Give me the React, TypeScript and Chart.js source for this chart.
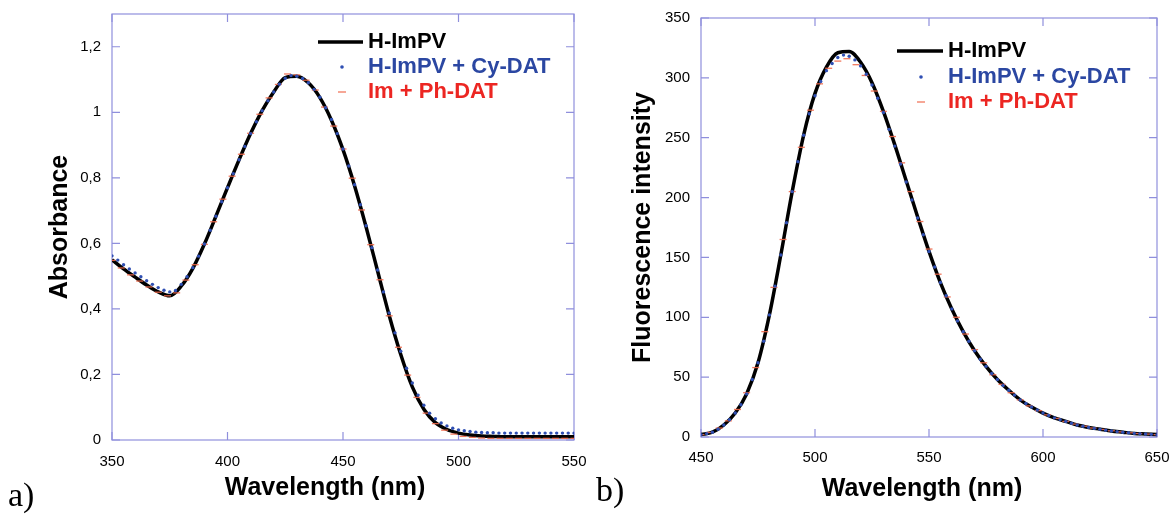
import React, { useEffect, useRef } from 'react';
import { Chart, registerables } from 'chart.js';

Chart.register(...registerables);

const FONT = '"Liberation Sans", Arial, sans-serif';

// ---------- data ----------
const seriesNames = ['H-ImPV', 'H-ImPV + Cy-DAT', 'Im + Ph-DAT'];

function grid(start: number, stop: number, step: number): number[] {
  const out: number[] = [];
  for (let v = start; v <= stop + 1e-9; v += step) out.push(Math.round(v * 10) / 10);
  return out;
}

// (a) Absorbance
const absLineWl = grid(350, 550, 5);
const absLineVals = [
  0.550, 0.522, 0.497, 0.473, 0.452, 0.440, 0.470, 0.524, 0.598, 0.683,
  0.770, 0.855, 0.935, 1.005, 1.062, 1.106, 1.110, 1.090, 1.045, 0.976,
  0.886, 0.776, 0.650, 0.515, 0.380, 0.261, 0.162, 0.094, 0.053, 0.032,
  0.021, 0.015, 0.012, 0.011, 0.010, 0.010, 0.010, 0.010, 0.010, 0.010,
  0.010,
];
const absDotWl = grid(350, 550, 2.5);
const absDotVals = [
  0.562, 0.549, 0.535, 0.522, 0.510, 0.498, 0.486, 0.475,
  0.465, 0.457, 0.452, 0.456, 0.475, 0.498, 0.526, 0.561,
  0.598, 0.640, 0.683, 0.727, 0.770, 0.813, 0.855, 0.896,
  0.935, 0.971, 1.005, 1.035, 1.062, 1.086, 1.104, 1.112,
  1.110, 1.103, 1.090, 1.070, 1.046, 1.014, 0.978, 0.935,
  0.888, 0.836, 0.779, 0.718, 0.654, 0.587, 0.519, 0.452,
  0.388, 0.327, 0.271, 0.219, 0.174, 0.137, 0.106, 0.082,
  0.065, 0.052, 0.043, 0.036, 0.031, 0.028, 0.026, 0.024,
  0.023, 0.022, 0.022, 0.021, 0.021, 0.021, 0.021, 0.021,
  0.021, 0.021, 0.021, 0.021, 0.021, 0.021, 0.021, 0.021,
  0.021,
];
const absDashWl = grid(350, 550, 4);
const absDashVals = [
  0.548, 0.525, 0.504, 0.485, 0.467, 0.451, 0.440, 0.449, 0.488, 0.535,
  0.597, 0.666, 0.735, 0.805, 0.872, 0.936, 0.994, 1.044, 1.085, 1.117,
  1.114, 1.098, 1.068, 1.016, 0.958, 0.888, 0.799, 0.702, 0.596, 0.489,
  0.379, 0.283, 0.198, 0.130, 0.082, 0.050, 0.030, 0.018, 0.011, 0.008,
  0.006, 0.005, 0.005, 0.005, 0.005, 0.005, 0.005, 0.005, 0.005, 0.005,
  0.005,
];

// (b) Fluorescence
const flLineWl = grid(450, 650, 5);
const flLineVals = [
  2, 4, 10, 20, 36, 62, 102, 152, 205, 252,
  287, 309, 321, 322, 313, 296, 272, 244, 214, 184,
  155, 129, 107, 88, 72, 59, 48, 39, 31, 25,
  20, 16, 13, 10, 8, 6.5, 5, 4, 3, 2.5,
  2,
];
const flDotWl = grid(450, 650, 2.5);
const flDotVals = [
  2, 2.8, 4, 6.5, 10, 14.5, 20, 27,
  36, 48, 62, 80, 102, 126, 152, 179,
  205, 230, 252, 270, 285, 297, 306, 312,
  317, 319, 318, 315, 310, 303, 294, 283,
  271, 257, 243, 228, 213, 198, 183, 169,
  155, 142, 129, 118, 107, 97, 88, 80,
  72, 65, 59, 53, 48, 43, 39, 35,
  31, 28, 25, 22.5, 20, 18, 16, 14.5,
  13, 11.5, 10, 9, 8, 7.2, 6.5, 5.7,
  5, 4.5, 4, 3.5, 3, 2.7, 2.5, 2.2,
  2,
];
const flDashWl = grid(450, 650, 4);
const flDashVals = [
  2, 3.8, 7.5, 13.5, 23, 37, 58, 88, 125, 165,
  205, 242, 273, 295, 308, 314, 316, 311, 302, 289,
  272, 251, 229, 205, 180, 157, 136, 117, 100, 86,
  73, 62, 52, 44, 37, 31, 26, 22, 18.5, 15.5,
  13, 10.8, 9, 7.5, 6.3, 5.2, 4.3, 3.5, 2.9, 2.4,
  2,
];

// ---------- style ----------
const BLACK = '#000000';
const BLUE = '#2f4fb3';
const BLUE_TEXT = '#2b47a2';
const RED_TEXT = '#ec2622';
const RED_MARK = 'rgba(240,105,75,0.9)';
const FRAME = '#8f8fdc';

function pts(xs: number[], ys: number[]) {
  return xs.map((x, i) => ({ x, y: ys[i] }));
}

const decorPlugin = {
  id: 'decor',
  beforeDatasetsDraw(chart: any, _a: any, opts: any) {
    const { ctx, chartArea: a, scales } = chart;
    ctx.save();
    ctx.strokeStyle = FRAME;
    ctx.lineWidth = 1.2;
    ctx.strokeRect(a.left, a.top, a.right - a.left, a.bottom - a.top);
    const tl = opts.tickLen;
    ctx.beginPath();
    scales.x.ticks.forEach((t: any) => {
      const px = scales.x.getPixelForValue(t.value);
      ctx.moveTo(px, a.bottom); ctx.lineTo(px, a.bottom - tl);
      ctx.moveTo(px, a.top); ctx.lineTo(px, a.top + tl);
    });
    scales.y.ticks.forEach((t: any) => {
      const py = scales.y.getPixelForValue(t.value);
      ctx.moveTo(a.left, py); ctx.lineTo(a.left + tl, py);
      ctx.moveTo(a.right, py); ctx.lineTo(a.right - tl, py);
    });
    ctx.stroke();
    ctx.restore();
  },
  afterDraw(chart: any, _a: any, opts: any) {
    const { ctx } = chart;
    ctx.save();
    // x-axis title
    ctx.fillStyle = '#000';
    ctx.font = `bold 25px ${FONT}`;
    ctx.textAlign = 'center';
    ctx.textBaseline = 'middle';
    ctx.fillText(opts.xTitle, opts.xTitleX, opts.xTitleY);
    // legend
    const lg = opts.legend;
    ctx.font = `bold 22px ${FONT}`;
    ctx.textAlign = 'left';
    ctx.textBaseline = 'middle';
    // row 0: line
    ctx.strokeStyle = BLACK;
    ctx.lineWidth = 3.5;
    ctx.beginPath();
    ctx.moveTo(lg.lineX1, lg.rows[0]);
    ctx.lineTo(lg.lineX2, lg.rows[0]);
    ctx.stroke();
    ctx.fillStyle = BLACK;
    ctx.fillText(seriesNames[0], lg.textX, lg.rows[0]);
    // row 1: dot
    ctx.fillStyle = BLUE;
    ctx.beginPath();
    ctx.arc(lg.markX, lg.rows[1], 1.8, 0, Math.PI * 2);
    ctx.fill();
    ctx.fillStyle = BLUE_TEXT;
    ctx.fillText(seriesNames[1], lg.textX, lg.rows[1]);
    // row 2: dash
    ctx.strokeStyle = RED_MARK;
    ctx.lineWidth = 1.3;
    ctx.beginPath();
    ctx.moveTo(lg.markX - 4, lg.rows[2]);
    ctx.lineTo(lg.markX + 4, lg.rows[2]);
    ctx.stroke();
    ctx.fillStyle = RED_TEXT;
    ctx.fillText(seriesNames[2], lg.textX, lg.rows[2]);
    ctx.restore();
  },
};

function makeDatasets(lineX: number[], lineY: number[], dotX: number[], dotY: number[], dashX: number[], dashY: number[]) {
  return [
    {
      label: seriesNames[0],
      data: pts(lineX, lineY),
      borderColor: BLACK,
      borderWidth: 3.5,
      pointRadius: 0,
      cubicInterpolationMode: 'monotone',
      fill: false,
      order: 2,
    },
    {
      label: seriesNames[1],
      data: pts(dotX, dotY),
      showLine: false,
      pointStyle: 'circle',
      pointRadius: 1.7,
      pointBackgroundColor: BLUE,
      pointBorderWidth: 0,
      order: 0,
    },
    {
      label: seriesNames[2],
      data: pts(dashX, dashY),
      showLine: false,
      pointStyle: 'line',
      pointRadius: 3.5,
      pointBorderColor: RED_MARK,
      pointBorderWidth: 1.3,
      order: 1,
    },
  ];
}

function buildConfig(p: any) {
  return {
    type: 'line',
    data: { datasets: p.datasets },
    plugins: [decorPlugin],
    options: {
      responsive: false,
      animation: false,
      devicePixelRatio: 1,
      layout: { padding: { left: 0, top: p.top, right: p.right, bottom: 0 } },
      plugins: {
        legend: { display: false },
        tooltip: { enabled: false },
        decor: p.decor,
      },
      scales: {
        x: {
          type: 'linear',
          min: p.xMin,
          max: p.xMax,
          afterFit: (s: any) => {
            s.height = p.xHeight;
            s.paddingLeft = 0;
            s.paddingRight = 0;
          },
          ticks: { stepSize: 50, color: '#000', font: { family: FONT, size: 15 }, padding: p.xPad, maxRotation: 0 },
          grid: { display: false, drawTicks: false },
          border: { display: false },
        },
        y: {
          type: 'linear',
          min: 0,
          max: p.yMax,
          afterFit: (s: any) => {
            s.width = p.yWidth;
            s.paddingTop = 0;
            s.paddingBottom = 0;
          },
          ticks: {
            stepSize: p.yStep,
            includeBounds: false,
            color: '#000',
            font: { family: FONT, size: 15 },
            padding: 11,
            callback: (v: number) => String(Math.round(v * 100) / 100).replace('.', ','),
          },
          grid: { display: false, drawTicks: false },
          border: { display: false },
          title: {
            display: true,
            text: p.yTitle,
            color: '#000',
            font: { family: FONT, size: 25, weight: 'bold' },
            padding: { top: p.yTitlePad, bottom: 0 },
          },
        },
      },
    },
  };
}

function ChartCanvas({ config, width, height, left }: any) {
  const ref = useRef<HTMLCanvasElement>(null);
  useEffect(() => {
    if (!ref.current) return;
    const chart = new Chart(ref.current, config);
    return () => chart.destroy();
  }, []);
  return (
    <canvas
      ref={ref}
      width={width}
      height={height}
      style={{ position: 'absolute', left, top: 0, width, height, display: 'block' }}
    />
  );
}

const leftConfig = buildConfig({
  datasets: makeDatasets(absLineWl, absLineVals, absDotWl, absDotVals, absDashWl, absDashVals),
  top: 14,
  right: 26,
  xMin: 350,
  xMax: 550,
  xHeight: 74,
  xPad: 13,
  yMax: 1.3,
  yStep: 0.2,
  yWidth: 112,
  yTitle: 'Absorbance',
  yTitlePad: 45,
  decor: {
    tickLen: 8,
    xTitle: 'Wavelength (nm)',
    xTitleX: 325,
    xTitleY: 488,
    legend: { lineX1: 318, lineX2: 363, markX: 342, textX: 368, rows: [42, 67, 92] },
  },
});

const rightConfig = buildConfig({
  datasets: makeDatasets(flLineWl, flLineVals, flDotWl, flDotVals, flDashWl, flDashVals),
  top: 18,
  right: 28,
  xMin: 450,
  xMax: 650,
  xHeight: 77,
  xPad: 12,
  yMax: 350,
  yStep: 50,
  yWidth: 116,
  yTitle: 'Fluorescence intensity',
  yTitlePad: 43,
  decor: {
    tickLen: 8,
    xTitle: 'Wavelength (nm)',
    xTitleX: 337,
    xTitleY: 489,
    legend: { lineX1: 312, lineX2: 358, markX: 336, textX: 363, rows: [51, 77, 102] },
  },
});

export default function App() {
  return (
    <div style={{ position: 'fixed', left: 0, top: 0, width: 1171, height: 514, background: '#fff', overflow: 'hidden' }}>
      <ChartCanvas config={leftConfig} width={600} height={514} left={0} />
      <ChartCanvas config={rightConfig} width={600} height={514} left={585} />
      <span style={{ position: 'absolute', left: 8, top: 478, font: '34px "Liberation Serif", serif', lineHeight: '34px', color: '#000' }}>a)</span>
      <span style={{ position: 'absolute', left: 596, top: 473, font: '34px "Liberation Serif", serif', lineHeight: '34px', color: '#000' }}>b)</span>
    </div>
  );
}
